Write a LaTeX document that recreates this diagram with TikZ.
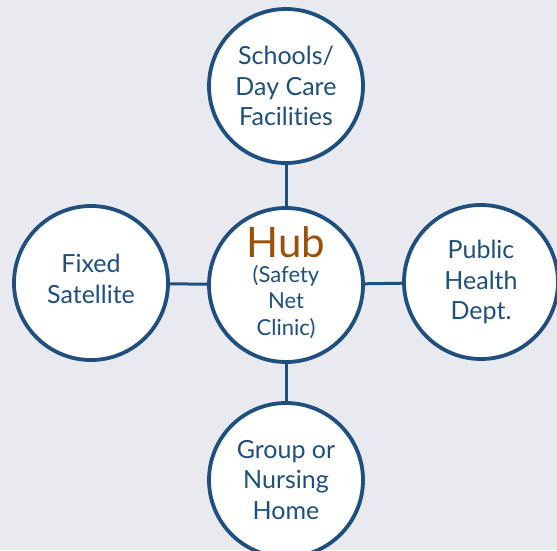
\documentclass[tikz,border=0pt]{standalone}
\usepackage{fontspec}
\setmainfont{Lato}[RawFeature=-liga]
\definecolor{navy}{HTML}{1E4F7E}
\definecolor{hubbrown}{HTML}{9A5208}
\definecolor{bgcol}{HTML}{E9EAF0}
\begin{document}
\begin{tikzpicture}[x=1pt,y=-1pt,
  site/.style={circle, draw=navy, line width=3.8pt, fill=white,
    minimum size=154pt, inner sep=0pt, align=center, text=navy,
    font=\fontsize{25}{30.5}\selectfont},
  sitetext/.style={inner sep=0pt, align=center, text=navy,
    font=\fontsize{25}{30.5}\selectfont},
  link/.style={draw=navy, line width=3pt}]
  % canvas
  \fill[bgcol] (0,0) rectangle (557,550);
  \useasboundingbox (0,0) rectangle (557,550);
  % nodes
  \node[site] (hub) at (286,285) {};
  \node[site] (top) at (286,86) {Schools/\\Day Care\\Facilities};
  \node[site] (left) at (91,283) {};
  \node[sitetext] (lefttext) at (91,279) {Fixed\\Satellite};
  \node[site] (right) at (481,282) {Public\\Health\\Dept.};
  \node[site] (bottom) at (286,480) {Group or\\Nursing\\Home};
  % spokes
  \draw[link] (hub) -- (top);
  \draw[link] (hub) -- (left);
  \draw[link] (hub) -- (right);
  \draw[link] (hub) -- (bottom);
  % hub label
  \node[text=hubbrown, font=\fontsize{42}{44}\selectfont, inner sep=0pt] (hubtitle) at (286,242) {Hub};
  \node[text=navy, align=center, inner sep=0pt, font=\fontsize{22}{26.5}\selectfont] (hubsub) at (286,302) {(Safety\\Net\\Clinic)};
\end{tikzpicture}
\end{document}
